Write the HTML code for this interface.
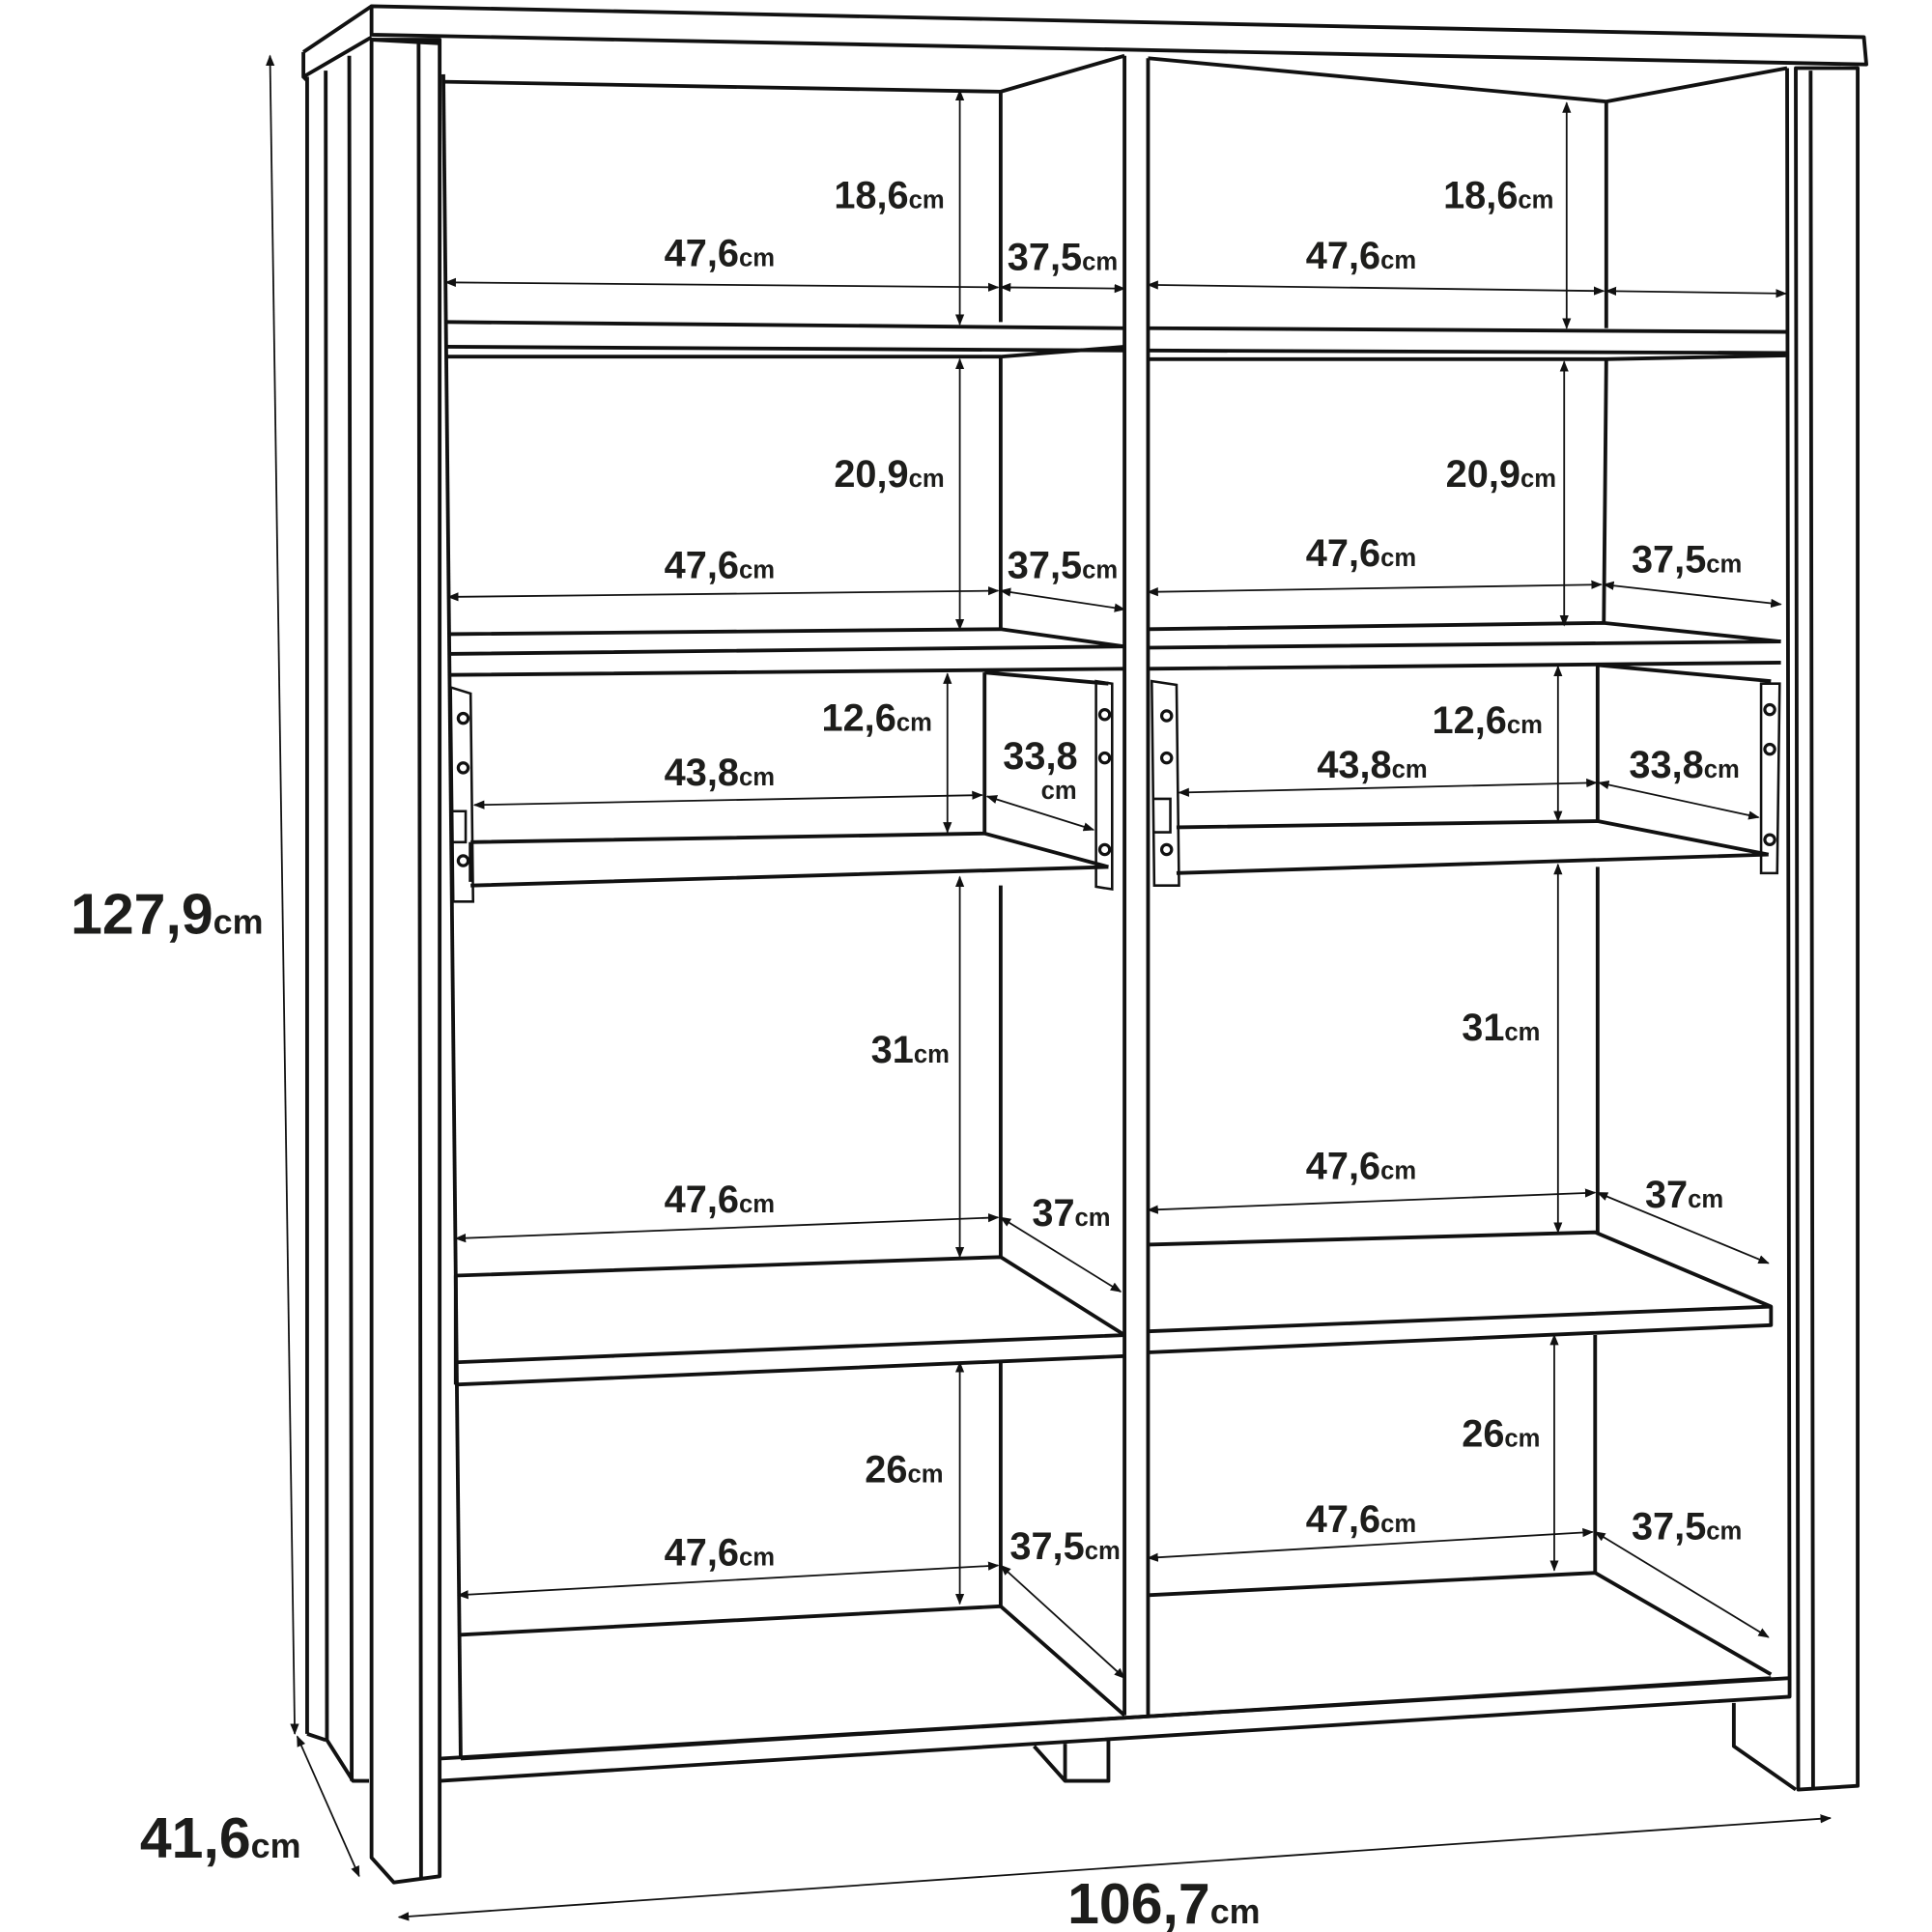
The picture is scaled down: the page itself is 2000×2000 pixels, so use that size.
<!DOCTYPE html>
<html><head><meta charset="utf-8"><style>
html,body{margin:0;padding:0;background:#fff}
svg{display:block}
text{font-family:"Liberation Sans",sans-serif;font-weight:bold;fill:#1d1d1b}
.s{fill:none;stroke:#111;stroke-width:3;stroke-linejoin:round}
.t{fill:none;stroke:#111;stroke-width:2}
.d{fill:none;stroke:#111;stroke-width:1.4;marker-start:url(#a);marker-end:url(#a)}
</style></head><body>
<svg width="2000" height="2000" viewBox="0 0 1560 1560" xmlns="http://www.w3.org/2000/svg">
<defs><marker id="a" viewBox="0 0 10 10" refX="9" refY="5" markerWidth="9" markerHeight="9" orient="auto-start-reverse" markerUnits="userSpaceOnUse"><path d="M0,1 L10,5 L0,9 z" fill="#111"/></marker></defs>
<g class="s">
<path d="M300,5 L1505,30 L1507,52 L300,28 Z"/>
<path d="M245,42 L300,5 M245,42 L245,62 L300,30 M245,62 L248,65"/>
<path d="M248,62 L248,1400 M263,57 L264,1405 L285,1438 L298,1438 M282,45 L284,1438"/>
<path d="M263,1405 L248,1400"/>
<path d="M300,32 L300,1500 L318,1520 L355,1515 L355,32 Z M338,35 L340,1518"/>
<path d="M355,35 L300,32"/>
<path d="M358,60 L372,1420"/>
<path d="M908,45 L908,1385 M927,47 L927,1385"/>
<path d="M1450,55 L1500,55 L1500,1442 L1452,1445 Z M1462,57 L1464,1443 M1443,55 L1445,1355"/>
<path d="M355,1420 L1445,1355 L1445,1370 L355,1438"/>
<path d="M372,1420 L1430,1355"/>
<path d="M835,1410 L860,1438 L895,1438 L895,1405 M860,1438 L860,1408"/>
<path d="M1400,1375 L1400,1410 L1450,1445"/>
<path d="M358,66 L808,74 L908,45 M808,74 L808,260 M808,288 L808,508 M795,543 L795,673 M808,715 L808,1015 M808,1100 L808,1297"/>
<path d="M360,260 L908,265 M360,280 L908,283 M360,288 L808,288 L908,280"/>
<path d="M362,512 L808,508 L908,522 M362,528 L908,522 M362,545 L908,540"/>
<path d="M795,543 L895,552 M380,680 L795,673 L895,700 M380,715 L895,700 M380,712 L380,680"/>
<path d="M368,1030 L808,1015 L908,1078 M368,1100 L908,1078 M368,1118 L908,1095 M368,1030 L368,1118"/>
<path d="M372,1320 L808,1297 L908,1385"/>
<path d="M927,47 L1297,82 L1443,55 M1297,82 L1297,265 M1297,290 L1295,503 M1290,537 L1290,663 M1290,700 L1290,995 M1288,1078 L1288,1270"/>
<path d="M927,265 L1442,268 M927,283 L1442,285 M927,290 L1297,290 L1442,287"/>
<path d="M927,508 L1295,503 L1438,518 M927,523 L1438,518 M927,540 L1438,535"/>
<path d="M1290,537 L1430,550 M950,668 L1290,663 L1428,690 M950,705 L1428,690"/>
<path d="M927,1005 L1288,995 L1430,1055 L1430,1070 L927,1092 M927,1075 L1430,1055"/>
<path d="M927,1288 L1288,1270 L1430,1352"/>
</g>
<g class="t">
<path d="M364,555 L380,560 L382,728 L366,728 Z M364,655 L376,655 L376,680 L364,680"/>
<path d="M885,550 L898,552 L898,718 L885,716 Z"/>
<path d="M930,550 L950,553 L952,715 L932,715 Z M932,645 L945,645 L945,672 L932,672"/>
<path d="M1422,552 L1437,552 L1435,705 L1422,705 Z"/>
</g>
<g fill="#fff" stroke="#111" stroke-width="2.5">
<circle cx="374" cy="580" r="4"/><circle cx="374" cy="620" r="4"/><circle cx="374" cy="695" r="4"/>
<circle cx="892" cy="577" r="4"/><circle cx="892" cy="612" r="4"/><circle cx="892" cy="686" r="4"/>
<circle cx="942" cy="578" r="4"/><circle cx="942" cy="612" r="4"/><circle cx="942" cy="686" r="4"/>
<circle cx="1429" cy="573" r="4"/><circle cx="1429" cy="605" r="4"/><circle cx="1429" cy="678" r="4"/>
</g>
<g>
<path class="d" d="M775,73 L775,262"/><path class="d" d="M360,228 L806,232"/><path class="d" d="M808,232 L908,233"/>
<path class="d" d="M775,290 L775,508"/><path class="d" d="M362,482 L806,477"/><path class="d" d="M808,477 L908,492"/>
<path class="d" d="M765,544 L765,672"/><path class="d" d="M383,650 L793,642"/><path class="d" d="M797,643 L883,670"/>
<path class="d" d="M775,708 L775,1015"/><path class="d" d="M368,1000 L806,983"/><path class="d" d="M808,983 L905,1043"/>
<path class="d" d="M775,1100 L775,1295"/><path class="d" d="M370,1288 L806,1264"/><path class="d" d="M808,1264 L908,1355"/>
<path class="d" d="M1265,83 L1265,265"/><path class="d" d="M927,230 L1295,235"/><path class="d" d="M1297,235 L1442,237"/>
<path class="d" d="M1263,292 L1263,505"/><path class="d" d="M927,478 L1293,472"/><path class="d" d="M1295,472 L1438,488"/>
<path class="d" d="M1258,538 L1258,663"/><path class="d" d="M952,640 L1289,632"/><path class="d" d="M1291,632 L1420,660"/>
<path class="d" d="M1258,698 L1258,995"/><path class="d" d="M927,977 L1288,963"/><path class="d" d="M1290,963 L1428,1020"/>
<path class="d" d="M1255,1078 L1255,1268"/><path class="d" d="M927,1258 L1286,1237"/><path class="d" d="M1288,1237 L1428,1322"/>
<path class="d" d="M218,45 L238,1400"/><path class="d" d="M240,1402 L290,1515"/><path class="d" d="M322,1548 L1478,1468"/>
</g>
<g font-size="31" text-anchor="middle">
<text x="718" y="168">18,6<tspan font-size="20">cm</tspan></text>
<text x="581" y="215">47,6<tspan font-size="20">cm</tspan></text>
<text x="858" y="218">37,5<tspan font-size="20">cm</tspan></text>
<text x="718" y="393">20,9<tspan font-size="20">cm</tspan></text>
<text x="581" y="467">47,6<tspan font-size="20">cm</tspan></text>
<text x="858" y="467">37,5<tspan font-size="20">cm</tspan></text>
<text x="708" y="590">12,6<tspan font-size="20">cm</tspan></text>
<text x="581" y="634">43,8<tspan font-size="20">cm</tspan></text>
<text x="840" y="621">33,8</text>
<text x="855" y="645" font-size="20">cm</text>
<text x="735" y="858">31<tspan font-size="20">cm</tspan></text>
<text x="581" y="979">47,6<tspan font-size="20">cm</tspan></text>
<text x="865" y="990">37<tspan font-size="20">cm</tspan></text>
<text x="730" y="1197">26<tspan font-size="20">cm</tspan></text>
<text x="581" y="1264">47,6<tspan font-size="20">cm</tspan></text>
<text x="860" y="1259">37,5<tspan font-size="20">cm</tspan></text>
<text x="1210" y="168">18,6<tspan font-size="20">cm</tspan></text>
<text x="1099" y="217">47,6<tspan font-size="20">cm</tspan></text>
<text x="1212" y="393">20,9<tspan font-size="20">cm</tspan></text>
<text x="1099" y="457">47,6<tspan font-size="20">cm</tspan></text>
<text x="1362" y="462">37,5<tspan font-size="20">cm</tspan></text>
<text x="1201" y="592">12,6<tspan font-size="20">cm</tspan></text>
<text x="1108" y="628">43,8<tspan font-size="20">cm</tspan></text>
<text x="1360" y="628">33,8<tspan font-size="20">cm</tspan></text>
<text x="1212" y="840">31<tspan font-size="20">cm</tspan></text>
<text x="1099" y="952">47,6<tspan font-size="20">cm</tspan></text>
<text x="1360" y="975">37<tspan font-size="20">cm</tspan></text>
<text x="1212" y="1168">26<tspan font-size="20">cm</tspan></text>
<text x="1099" y="1237">47,6<tspan font-size="20">cm</tspan></text>
<text x="1362" y="1243">37,5<tspan font-size="20">cm</tspan></text>
</g>
<g font-size="46">
<text x="57" y="754">127,9<tspan font-size="28">cm</tspan></text>
<text x="113" y="1500">41,6<tspan font-size="28">cm</tspan></text>
<text x="862" y="1553">106,7<tspan font-size="28">cm</tspan></text>
</g>
</svg>
</body></html>
